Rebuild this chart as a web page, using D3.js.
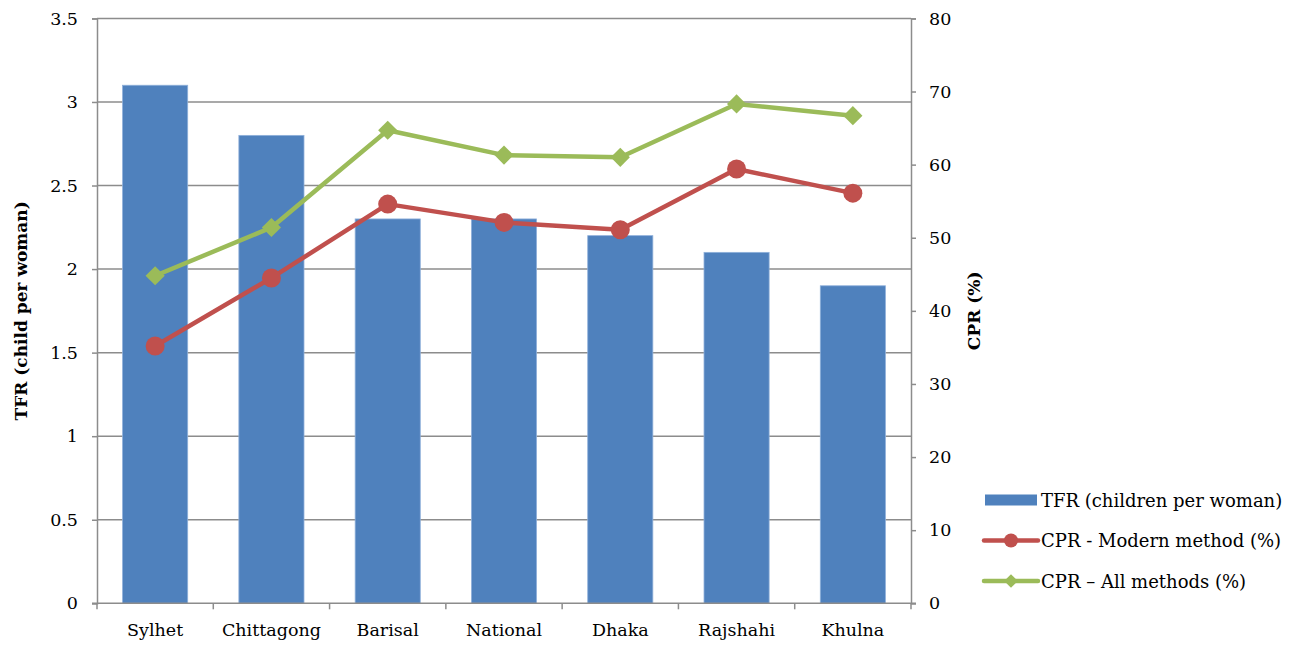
<!DOCTYPE html>
<html>
<head>
<meta charset="utf-8">
<script src="https://cdn.jsdelivr.net/npm/d3@7/dist/d3.min.js"></script>
<style>
  html, body { margin: 0; padding: 0; background: #fff; }
  svg text { font-family: "DejaVu Serif", "Liberation Serif", serif; fill: #000; }
</style>
</head>
<body>
<svg id="chart" width="1300" height="646"></svg>
<script>
// Regions of Bangladesh
const regions = ["Sylhet", "Chittagong", "Barisal", "National", "Dhaka", "Rajshahi", "Khulna"];
// Total fertility rate (children per woman)
const tfr = [3.1, 2.8, 2.3, 2.3, 2.2, 2.1, 1.9];
// Contraceptive prevalence rate, modern methods (%)
const cprModern = [35.2, 44.5, 54.6, 52.1, 51.1, 59.4, 56.1];
// Contraceptive prevalence rate, all methods (%)
const cprAll = [44.8, 51.4, 64.7, 61.3, 61.0, 68.3, 66.7];
// Axis ticks
const leftTicks = [0, 0.5, 1, 1.5, 2, 2.5, 3, 3.5];
const rightTicks = [0, 10, 20, 30, 40, 50, 60, 70, 80];

const legendLabels = ["TFR (children per woman)", "CPR - Modern method (%)", "CPR \u2013 All methods (%)"];

const colors = { bar: "#4F81BD", barEdge: "#8FB0DA", modern: "#C0504D", all: "#9BBB59", grid: "#8C8C8C" };

const svg = d3.select("#chart");
const plot = { left: 97, right: 911, top: 18.4, bottom: 603.3 };

const x = d3.scaleBand().domain(regions).range([plot.left, plot.right]).paddingInner(0.44).paddingOuter(0.22);
const xCenter = d => x(d) + x.bandwidth() / 2;
const yL = d3.scaleLinear().domain([0, 3.5]).range([plot.bottom, plot.top]);
const yR = d3.scaleLinear().domain([0, 80]).range([plot.bottom, plot.top]);

// Horizontal gridlines at the left-axis ticks
svg.append("g").selectAll("line").data(leftTicks.filter(t => t > 0)).join("line")
  .attr("x1", plot.left).attr("x2", plot.right)
  .attr("y1", d => yL(d)).attr("y2", d => yL(d))
  .attr("stroke", colors.grid).attr("stroke-width", 1.5);

// Bars
svg.append("g").selectAll("rect").data(regions).join("rect")
  .attr("x", d => x(d))
  .attr("width", x.bandwidth())
  .attr("y", (d, i) => yL(tfr[i]))
  .attr("height", (d, i) => yL(0) - yL(tfr[i]))
  .attr("fill", colors.bar)
  .attr("stroke", colors.barEdge).attr("stroke-width", 0.8);

// Left axis
const leftAxis = svg.append("g").attr("transform", `translate(${plot.left},0)`)
  .call(d3.axisLeft(yL).tickValues(leftTicks).tickSize(5).tickPadding(14).tickFormat(d3.format("")));
// Right axis
const rightAxis = svg.append("g").attr("transform", `translate(${plot.right},0)`)
  .call(d3.axisRight(yR).tickValues(rightTicks).tickSize(5).tickPadding(13).tickFormat(d3.format("")));
// Bottom axis: ticks fall between categories
const bottom = svg.append("g").attr("transform", `translate(0,${plot.bottom})`);
bottom.append("line").attr("x1", plot.left - 5).attr("x2", plot.right + 5)
  .attr("stroke", colors.grid).attr("stroke-width", 1.5);
const bounds = d3.range(regions.length + 1).map(i => plot.left + (plot.right - plot.left) * i / regions.length);
bottom.selectAll("line.sep").data(bounds).join("line").attr("class", "sep")
  .attr("x1", d => d).attr("x2", d => d).attr("y1", 0).attr("y2", 6)
  .attr("stroke", colors.grid).attr("stroke-width", 1.5);
bottom.selectAll("text").data(regions).join("text")
  .attr("x", d => xCenter(d)).attr("y", 33)
  .attr("text-anchor", "middle").attr("font-size", 17.5)
  .text(d => d);

[leftAxis, rightAxis].forEach(g => {
  g.select(".domain").attr("stroke", colors.grid).attr("stroke-width", 1.5);
  g.selectAll(".tick line").attr("stroke", colors.grid).attr("stroke-width", 1.5);
  g.selectAll(".tick text").attr("font-size", 17.5).attr("font-family", "DejaVu Serif");
});

// Line series
const lineGen = yScale => d3.line().x((d, i) => xCenter(regions[i])).y(d => yScale(d));

svg.append("path").datum(cprAll).attr("d", lineGen(yR))
  .attr("fill", "none").attr("stroke", colors.all).attr("stroke-width", 4.5).attr("stroke-linejoin", "round");
svg.append("g").selectAll("path").data(cprAll).join("path")
  .attr("d", d3.symbol(d3.symbolDiamond2, 235))
  .attr("transform", (d, i) => `translate(${xCenter(regions[i])},${yR(d)})`)
  .attr("fill", colors.all);

svg.append("path").datum(cprModern).attr("d", lineGen(yR))
  .attr("fill", "none").attr("stroke", colors.modern).attr("stroke-width", 4.5).attr("stroke-linejoin", "round");
svg.append("g").selectAll("circle").data(cprModern).join("circle")
  .attr("cx", (d, i) => xCenter(regions[i])).attr("cy", d => yR(d)).attr("r", 9.5)
  .attr("fill", colors.modern);

// Axis titles
svg.append("text").attr("transform", `translate(27,${(plot.top + plot.bottom) / 2}) rotate(-90)`)
  .attr("text-anchor", "middle").attr("font-size", 17).attr("font-weight", "bold")
  .text("TFR (child per woman)");
svg.append("text").attr("transform", `translate(980,${(plot.top + plot.bottom) / 2}) rotate(-90)`)
  .attr("text-anchor", "middle").attr("font-size", 17).attr("font-weight", "bold")
  .text("CPR (%)");

// Legend
const legend = svg.append("g").attr("transform", "translate(984,500)");
const rowGap = 40.5;
legend.append("rect").attr("x", 1).attr("y", -5.5).attr("width", 52).attr("height", 11).attr("fill", colors.bar);
legend.append("line").attr("x1", 0).attr("x2", 54).attr("y1", rowGap).attr("y2", rowGap)
  .attr("stroke", colors.modern).attr("stroke-width", 4.5).attr("stroke-linecap", "round");
legend.append("circle").attr("cx", 27).attr("cy", rowGap).attr("r", 7).attr("fill", colors.modern);
legend.append("line").attr("x1", 0).attr("x2", 54).attr("y1", rowGap * 2).attr("y2", rowGap * 2)
  .attr("stroke", colors.all).attr("stroke-width", 4.5).attr("stroke-linecap", "round");
legend.append("path").attr("d", d3.symbol(d3.symbolDiamond2, 120))
  .attr("transform", `translate(27,${rowGap * 2})`).attr("fill", colors.all);
legend.selectAll("text").data(legendLabels).join("text")
  .attr("x", 57).attr("y", (d, i) => i * rowGap + 6.5)
  .attr("font-size", 18)
  .text(d => d);
</script>
</body>
</html>
